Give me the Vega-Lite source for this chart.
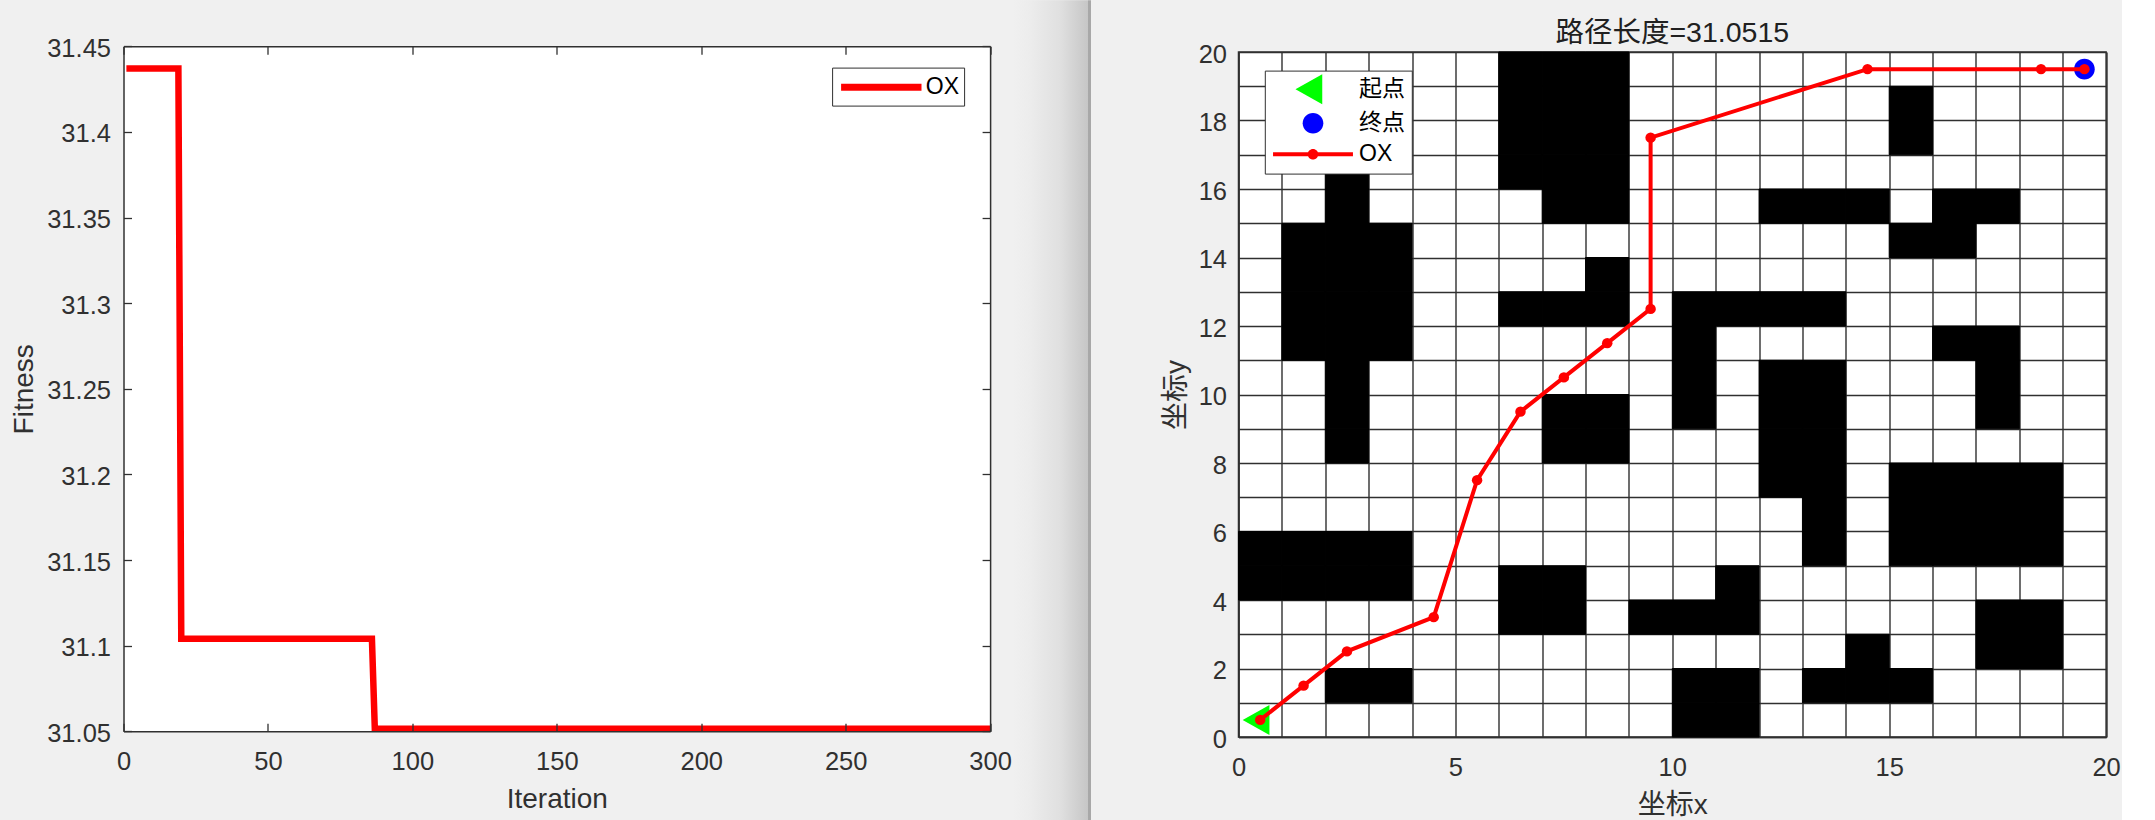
{"$schema":"https://vega.github.io/schema/vega-lite/v6.json","background":"#f0f0f0","padding":{"left":10.5,"top":0,"right":0,"bottom":0},"spacing":2,"bounds":"full","resolve":{"scale":{"color":"independent","shape":"independent"},"legend":{"color":"independent","shape":"independent"}},"config":{"font":"Liberation Sans, Noto Sans CJK SC","view":{"stroke":null},"axis":{"labelFont":"Liberation Sans","labelFontSize":25.5,"labelColor":"#303030","titleFont":"Liberation Sans, Noto Sans CJK SC","titleFontSize":28,"titleFontWeight":"normal","titleColor":"#303030","grid":false,"domainColor":"#303030","domainWidth":1.5,"tickColor":"#303030","tickWidth":1.3},"title":{"font":"Liberation Sans, Noto Sans CJK SC","fontWeight":"normal","color":"#202020","anchor":"middle"},"legend":{"labelFont":"Liberation Sans, Noto Sans CJK SC","labelFontSize":23,"labelColor":"#000000","fillColor":"#ffffff","strokeColor":"#303030","title":null}},"hconcat":[{"width":866.6,"height":679.3,"resolve":{"axis":{"x":"independent","y":"independent"}},"layer":[{"data":{"values":[{"x0":0,"x1":300,"y0":31.05,"y1":31.45}]},"mark":{"type":"rect","color":"#ffffff"},"encoding":{"x":{"field":"x0","type":"quantitative","scale":{"domain":[0,300],"nice":false},"axis":null},"x2":{"field":"x1"},"y":{"field":"y0","type":"quantitative","scale":{"domain":[31.05,31.45],"nice":false,"zero":false,"range":[679.3,-5.7]},"axis":null},"y2":{"field":"y1"}}},{"data":{"values":[{"iter":1,"fit":31.437,"s":"OX"},{"iter":19,"fit":31.437,"s":"OX"},{"iter":20,"fit":31.104,"s":"OX"},{"iter":86,"fit":31.104,"s":"OX"},{"iter":87,"fit":31.0515,"s":"OX"},{"iter":300,"fit":31.0515,"s":"OX"}]},"mark":{"type":"line","strokeWidth":6.5,"strokeJoin":"miter","clip":true},"encoding":{"x":{"field":"iter","type":"quantitative","axis":{"title":"Iteration","values":[0,50,100,150,200,250,300],"tickSize":-8,"labelPadding":26,"titlePadding":11,"labelFlush":false,"zindex":1}},"y":{"field":"fit","type":"quantitative","axis":{"title":"Fitness","values":[31.05,31.1,31.15,31.2,31.25,31.3,31.35,31.4,31.45],"format":".4~g","tickSize":-8,"labelPadding":21,"titlePadding":8,"labelOffset":2,"zindex":1}},"color":{"field":"s","type":"nominal","scale":{"domain":["OX"],"range":["#ff0000"]},"legend":{"orient":"none","legendX":708.6,"legendY":15.6,"symbolType":"M-3.35,0H3.35","symbolSize":576,"symbolStrokeWidth":7,"symbolOffset":29.5,"labelOffset":29,"padding":4.2}}}},{"data":{"values":[{"iter":1,"fit":31.437,"s":"OX"},{"iter":300,"fit":31.0515,"s":"OX"}]},"mark":{"type":"line","opacity":0},"encoding":{"x":{"field":"iter","type":"quantitative","axis":{"orient":"top","title":null,"labels":false,"values":[0,50,100,150,200,250,300],"tickSize":-8,"offset":5.7,"zindex":1}},"y":{"field":"fit","type":"quantitative","axis":{"orient":"right","title":null,"labels":false,"values":[31.05,31.1,31.15,31.2,31.25,31.3,31.35,31.4,31.45],"tickSize":-8,"zindex":1}}}}]},{"width":144.5,"height":768.3,"data":{"values":[{"a":0,"b":1}]},"mark":{"type":"rect","color":{"gradient":"linear","x1":0,"y1":0,"x2":1,"y2":0,"stops":[{"offset":0,"color":"#f0f0f0"},{"offset":0.117,"color":"#ececec"},{"offset":0.32,"color":"#e0e0e0"},{"offset":0.516,"color":"#c6c6c6"},{"offset":0.518,"color":"#a8a8a8"},{"offset":0.533,"color":"#a8a8a8"},{"offset":0.535,"color":"#f0f0f0"},{"offset":1,"color":"#f0f0f0"}]}},"encoding":{"x":{"field":"a","type":"quantitative","axis":null,"scale":{"domain":[0,1],"nice":false}},"x2":{"field":"b"},"y":{"field":"a","type":"quantitative","axis":null,"scale":{"domain":[0,1],"nice":false,"range":[768.3,-51.7]}},"y2":{"field":"b"}}},{"width":867.6,"height":685,"view":{"fill":"#ffffff","stroke":"#303030","strokeWidth":1.5},"title":{"text":"路径长度=31.0515","fontSize":28.5,"offset":-5},"encoding":{"x":{"type":"quantitative","scale":{"domain":[0,20],"nice":false},"axis":{"title":"坐标x","values":[0,1,2,3,4,5,6,7,8,9,10,11,12,13,14,15,16,17,18,19,20],"labelExpr":"datum.value % 5 === 0 ? datum.label : ''","grid":true,"gridColor":"#303030","gridWidth":1.4,"gridOpacity":1,"tickSize":0,"labelPadding":18,"titlePadding":11,"labelFlush":false,"labelOverlap":false}},"y":{"type":"quantitative","scale":{"domain":[0,20],"nice":false},"axis":{"title":"坐标y","values":[0,1,2,3,4,5,6,7,8,9,10,11,12,13,14,15,16,17,18,19,20],"labelExpr":"datum.value % 2 === 0 ? datum.label : ''","grid":true,"gridColor":"#303030","gridWidth":1.4,"gridOpacity":1,"tickSize":0,"labelPadding":12,"titlePadding":8,"labelOverlap":false,"labelOffset":2}}},"layer":[{"data":{"values":[{"c":0,"c1":1,"r":4,"r1":5},{"c":1,"c1":2,"r":4,"r1":5},{"c":2,"c1":3,"r":4,"r1":5},{"c":3,"c1":4,"r":4,"r1":5},{"c":0,"c1":1,"r":5,"r1":6},{"c":1,"c1":2,"r":5,"r1":6},{"c":2,"c1":3,"r":5,"r1":6},{"c":3,"c1":4,"r":5,"r1":6},{"c":6,"c1":7,"r":16,"r1":17},{"c":7,"c1":8,"r":16,"r1":17},{"c":8,"c1":9,"r":16,"r1":17},{"c":6,"c1":7,"r":17,"r1":18},{"c":7,"c1":8,"r":17,"r1":18},{"c":8,"c1":9,"r":17,"r1":18},{"c":6,"c1":7,"r":18,"r1":19},{"c":7,"c1":8,"r":18,"r1":19},{"c":8,"c1":9,"r":18,"r1":19},{"c":6,"c1":7,"r":19,"r1":20},{"c":7,"c1":8,"r":19,"r1":20},{"c":8,"c1":9,"r":19,"r1":20},{"c":7,"c1":8,"r":15,"r1":16},{"c":8,"c1":9,"r":15,"r1":16},{"c":15,"c1":16,"r":17,"r1":18},{"c":15,"c1":16,"r":18,"r1":19},{"c":12,"c1":13,"r":15,"r1":16},{"c":13,"c1":14,"r":15,"r1":16},{"c":14,"c1":15,"r":15,"r1":16},{"c":16,"c1":17,"r":15,"r1":16},{"c":17,"c1":18,"r":15,"r1":16},{"c":15,"c1":16,"r":14,"r1":15},{"c":16,"c1":17,"r":14,"r1":15},{"c":2,"c1":3,"r":15,"r1":16},{"c":2,"c1":3,"r":16,"r1":17},{"c":1,"c1":2,"r":11,"r1":12},{"c":2,"c1":3,"r":11,"r1":12},{"c":3,"c1":4,"r":11,"r1":12},{"c":1,"c1":2,"r":12,"r1":13},{"c":2,"c1":3,"r":12,"r1":13},{"c":3,"c1":4,"r":12,"r1":13},{"c":1,"c1":2,"r":13,"r1":14},{"c":2,"c1":3,"r":13,"r1":14},{"c":3,"c1":4,"r":13,"r1":14},{"c":1,"c1":2,"r":14,"r1":15},{"c":2,"c1":3,"r":14,"r1":15},{"c":3,"c1":4,"r":14,"r1":15},{"c":2,"c1":3,"r":8,"r1":9},{"c":2,"c1":3,"r":9,"r1":10},{"c":2,"c1":3,"r":10,"r1":11},{"c":8,"c1":9,"r":13,"r1":14},{"c":6,"c1":7,"r":12,"r1":13},{"c":7,"c1":8,"r":12,"r1":13},{"c":8,"c1":9,"r":12,"r1":13},{"c":10,"c1":11,"r":12,"r1":13},{"c":11,"c1":12,"r":12,"r1":13},{"c":12,"c1":13,"r":12,"r1":13},{"c":13,"c1":14,"r":12,"r1":13},{"c":10,"c1":11,"r":9,"r1":10},{"c":10,"c1":11,"r":10,"r1":11},{"c":10,"c1":11,"r":11,"r1":12},{"c":16,"c1":17,"r":11,"r1":12},{"c":17,"c1":18,"r":11,"r1":12},{"c":17,"c1":18,"r":9,"r1":10},{"c":17,"c1":18,"r":10,"r1":11},{"c":12,"c1":13,"r":7,"r1":8},{"c":13,"c1":14,"r":7,"r1":8},{"c":12,"c1":13,"r":8,"r1":9},{"c":13,"c1":14,"r":8,"r1":9},{"c":12,"c1":13,"r":9,"r1":10},{"c":13,"c1":14,"r":9,"r1":10},{"c":12,"c1":13,"r":10,"r1":11},{"c":13,"c1":14,"r":10,"r1":11},{"c":13,"c1":14,"r":5,"r1":6},{"c":13,"c1":14,"r":6,"r1":7},{"c":7,"c1":8,"r":8,"r1":9},{"c":8,"c1":9,"r":8,"r1":9},{"c":7,"c1":8,"r":9,"r1":10},{"c":8,"c1":9,"r":9,"r1":10},{"c":15,"c1":16,"r":5,"r1":6},{"c":16,"c1":17,"r":5,"r1":6},{"c":17,"c1":18,"r":5,"r1":6},{"c":18,"c1":19,"r":5,"r1":6},{"c":15,"c1":16,"r":6,"r1":7},{"c":16,"c1":17,"r":6,"r1":7},{"c":17,"c1":18,"r":6,"r1":7},{"c":18,"c1":19,"r":6,"r1":7},{"c":15,"c1":16,"r":7,"r1":8},{"c":16,"c1":17,"r":7,"r1":8},{"c":17,"c1":18,"r":7,"r1":8},{"c":18,"c1":19,"r":7,"r1":8},{"c":6,"c1":7,"r":3,"r1":4},{"c":7,"c1":8,"r":3,"r1":4},{"c":6,"c1":7,"r":4,"r1":5},{"c":7,"c1":8,"r":4,"r1":5},{"c":11,"c1":12,"r":4,"r1":5},{"c":9,"c1":10,"r":3,"r1":4},{"c":10,"c1":11,"r":3,"r1":4},{"c":11,"c1":12,"r":3,"r1":4},{"c":17,"c1":18,"r":2,"r1":3},{"c":18,"c1":19,"r":2,"r1":3},{"c":17,"c1":18,"r":3,"r1":4},{"c":18,"c1":19,"r":3,"r1":4},{"c":14,"c1":15,"r":2,"r1":3},{"c":13,"c1":14,"r":1,"r1":2},{"c":14,"c1":15,"r":1,"r1":2},{"c":15,"c1":16,"r":1,"r1":2},{"c":2,"c1":3,"r":1,"r1":2},{"c":3,"c1":4,"r":1,"r1":2},{"c":10,"c1":11,"r":0,"r1":1},{"c":11,"c1":12,"r":0,"r1":1},{"c":10,"c1":11,"r":1,"r1":2},{"c":11,"c1":12,"r":1,"r1":2}]},"mark":{"type":"rect","color":"#000000","stroke":"#000000","strokeWidth":1},"encoding":{"x":{"field":"c","type":"quantitative"},"x2":{"field":"c1"},"y":{"field":"r","type":"quantitative"},"y2":{"field":"r1"}}},{"data":{"values":[{"px":0.5,"py":0.5,"k":"起点"},{"px":19.5,"py":19.5,"k":"终点"}]},"mark":{"type":"point","filled":true,"size":576,"opacity":1,"clip":false},"encoding":{"x":{"field":"px","type":"quantitative"},"y":{"field":"py","type":"quantitative"},"color":{"field":"k","type":"nominal","scale":{"domain":["起点","终点","OX"],"range":["#00ff00","#0000ff","#ff0000"]},"legend":{"orient":"none","legendX":26.3,"legendY":18.6,"symbolSize":576,"symbolStrokeWidth":0,"symbolOffset":29.5,"labelOffset":34,"rowPadding":7,"padding":6.7}},"shape":{"field":"k","type":"nominal","scale":{"domain":["起点","终点","OX"],"range":["M-1.46,0L0.77,-1.25V1.25Z","M-0.86,0a0.86,0.86 0 1,1 1.72,0a0.86,0.86 0 1,1 -1.72,0Z","M-3.33,-0.167H3.33V0.167H-3.33ZM-0.44,0a0.44,0.44 0 1,1 0.88,0a0.44,0.44 0 1,1 -0.88,0Z"]}}}},{"data":{"values":[{"px":0.5,"py":0.5},{"px":1.5,"py":1.5},{"px":2.5,"py":2.5},{"px":4.5,"py":3.5},{"px":5.5,"py":7.5},{"px":6.5,"py":9.5},{"px":7.5,"py":10.5},{"px":8.5,"py":11.5},{"px":9.5,"py":12.5},{"px":9.5,"py":17.5},{"px":14.5,"py":19.5},{"px":18.5,"py":19.5},{"px":19.5,"py":19.5}]},"mark":{"type":"line","color":"#ff0000","strokeWidth":4,"point":{"filled":true,"color":"#ff0000","size":110,"opacity":1}},"encoding":{"x":{"field":"px","type":"quantitative"},"y":{"field":"py","type":"quantitative"},"order":{"field":"px"}}}]}]}
